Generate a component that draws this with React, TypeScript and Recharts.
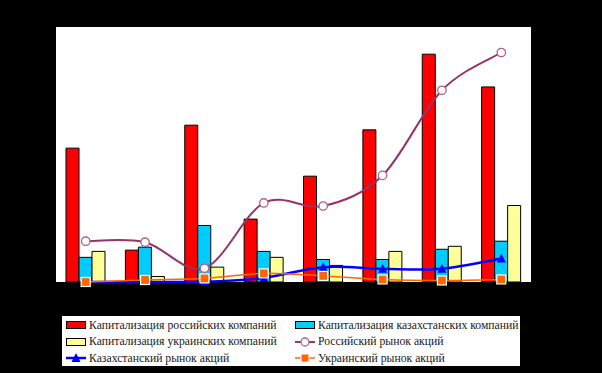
import React from "react";
import {
  ComposedChart,
  Bar,
  Line,
  XAxis,
  YAxis,
  CartesianGrid,
  Legend,
} from "recharts";

// categories (labels are black on black in the source, so not readable)
const years = ["2000", "2001", "2002", "2003", "2004", "2005", "2006", "2007"];

// bar series, left axis
const capRussia = [630, 150, 738, 296, 498, 716, 1072, 918];
const capKazakhstan = [116, 164, 266, 144, 106, 106, 154, 192];
const capUkraine = [144, 26, 70, 116, 78, 144, 168, 360];

// line series, right axis
const marketRussia = [320, 312, 108, 620, 596, 836, 1504, 1800];
const marketKazakhstan = [0, 0, 2, 32, 116, 104, 104, 184];
const marketUkraine = [0, 16, 28, 68, 48, 20, 12, 20];

const leftTicks = [0, 200, 400, 600, 800, 1000, 1200];
const rightTicks = [0, 400, 800, 1200, 1600, 2000];
const boundaryTicks = [1, 2, 3, 4, 5, 6, 7];

const data = years.map((year, i) => ({
  year,
  idx: i + 0.5,
  capRussia: capRussia[i],
  capKazakhstan: capKazakhstan[i],
  capUkraine: capUkraine[i],
  marketRussia: marketRussia[i],
  marketKazakhstan: marketKazakhstan[i],
  marketUkraine: marketUkraine[i],
}));

// Excel-like smoothed line (Catmull-Rom as bezier)
const smooth = (context: any) => {
  let pts: [number, number][] = [];
  return {
    areaStart() {},
    areaEnd() {},
    lineStart() {
      pts = [];
    },
    point(x: number, y: number) {
      pts.push([+x, +y]);
    },
    lineEnd() {
      const n = pts.length;
      if (!n) return;
      context.moveTo(pts[0][0], pts[0][1]);
      for (let i = 0; i < n - 1; i++) {
        const p0 = pts[Math.max(i - 1, 0)];
        const p1 = pts[i];
        const p2 = pts[i + 1];
        const p3 = pts[Math.min(i + 2, n - 1)];
        context.bezierCurveTo(
          p1[0] + (p2[0] - p0[0]) / 6,
          p1[1] + (p2[1] - p0[1]) / 6,
          p2[0] - (p3[0] - p1[0]) / 6,
          p2[1] - (p3[1] - p1[1]) / 6,
          p2[0],
          p2[1]
        );
      }
    },
  };
};

const RED = "#ff0000";
const CYAN = "#00ccff";
const YELLOW = "#ffff99";
const MAROON = "#993366";
const BLUE = "#0000ff";
const ORANGE = "#ff6600";

function CircleDot(props: any) {
  const { cx, cy, index } = props;
  return <circle key={`c-${index}`} cx={cx} cy={cy} r={4.2} fill="#fff" stroke="#b0608c" strokeWidth={1.3} />;
}

function TriangleDot(props: any) {
  const { cx, cy, index } = props;
  return (
    <path
      key={`t-${index}`}
      d={`M${cx},${cy - 5} L${cx + 4.5},${cy + 4} L${cx - 4.5},${cy + 4} Z`}
      fill={BLUE}
    />
  );
}

function SquareDot(props: any) {
  const { cx, cy, index } = props;
  return (
    <rect
      key={`s-${index}`}
      x={cx - 4.5}
      y={cy - 4.5}
      width={9}
      height={9}
      fill={ORANGE}
      stroke="#fff"
      strokeWidth={1.2}
    />
  );
}

const legendItems = [
  { label: "Капитализация российских компаний", kind: "bar", color: RED },
  { label: "Капитализация казахстанских компаний", kind: "bar", color: CYAN },
  { label: "Капитализация украинских компаний", kind: "bar", color: YELLOW },
  { label: "Российский рынок акций", kind: "circle", color: MAROON },
  { label: "Казахстанский рынок акций", kind: "triangle", color: BLUE },
  { label: "Украинский рынок акций", kind: "square", color: ORANGE },
];

function LegendIcon({ kind, color }: { kind: string; color: string }) {
  if (kind === "bar") {
    return (
      <svg width={20} height={10}>
        <rect x={0.5} y={1.5} width={19} height={7} fill={color} stroke="#000" strokeWidth={1} />
      </svg>
    );
  }
  return (
    <svg width={20} height={12}>
      <line x1={0} y1={6} x2={20} y2={6} stroke={color} strokeWidth={kind === "triangle" ? 2.5 : kind === "circle" ? 2 : 1.5} />
      {kind === "circle" && <circle cx={10} cy={6} r={4} fill="#fff" stroke="#b0608c" strokeWidth={1.3} />}
      {kind === "triangle" && <path d="M10,1 L14.5,10 L5.5,10 Z" fill={BLUE} />}
      {kind === "square" && <rect x={6} y={2} width={8} height={8} fill={ORANGE} stroke="#fff" strokeWidth={1} />}
    </svg>
  );
}

function ChartLegend() {
  return (
    <div
      style={{
        width: 458,
        height: 50,
        background: "#fff",
        boxSizing: "border-box",
        padding: "1px 0 0 4px",
        display: "grid",
        gridTemplateColumns: "229px 229px",
        gridAutoRows: "16.5px",
        fontFamily: "'Liberation Serif', 'Times New Roman', serif",
        fontSize: 11.7,
        color: "#1a1a1a",
      }}
    >
      {legendItems.map((item) => (
        <div key={item.label} style={{ display: "flex", alignItems: "center", whiteSpace: "nowrap" }}>
          <LegendIcon kind={item.kind} color={item.color} />
          <span style={{ marginLeft: 3 }}>{item.label}</span>
        </div>
      ))}
    </div>
  );
}

export default function App() {
  return (
    <div style={{ position: "absolute", left: 0, top: 0, width: 602, height: 373, background: "#000" }}>
      <ComposedChart
        width={602}
        height={373}
        data={data}
        margin={{ top: 27, right: 0, bottom: 91, left: 0 }}
        barGap={0}
      >
        <CartesianGrid horizontal={false} vertical={false} fill="#fff" stroke="none" />
        <XAxis dataKey="year" tick={false} tickLine={false} axisLine={false} height={0} />
        <XAxis
          xAxisId="bounds"
          type="number"
          dataKey="idx"
          domain={[0, 8]}
          ticks={boundaryTicks}
          tick={false}
          tickSize={-4}
          tickLine={{ stroke: "#000" }}
          axisLine={false}
          height={0}
        />
        <YAxis
          width={56}
          domain={[0, 1200]}
          ticks={leftTicks}
          tick={false}
          tickSize={-4}
          tickLine={{ stroke: "#000" }}
          axisLine={false}
        />
        <YAxis
          yAxisId="right"
          orientation="right"
          width={71}
          domain={[0, 2000]}
          ticks={rightTicks}
          tick={false}
          tickSize={-4}
          tickLine={{ stroke: "#000" }}
          axisLine={false}
        />
        <Bar dataKey="capRussia" name="Капитализация российских компаний" fill={RED} stroke="#000" strokeWidth={1} barSize={13} isAnimationActive={false} />
        <Bar dataKey="capKazakhstan" name="Капитализация казахстанских компаний" fill={CYAN} stroke="#000" strokeWidth={1} barSize={13} isAnimationActive={false} />
        <Bar dataKey="capUkraine" name="Капитализация украинских компаний" fill={YELLOW} stroke="#000" strokeWidth={1} barSize={13} isAnimationActive={false} />
        <Line yAxisId="right" dataKey="marketRussia" name="Российский рынок акций" type={smooth as any} stroke={MAROON} strokeWidth={2} dot={CircleDot} activeDot={false} isAnimationActive={false} />
        <Line yAxisId="right" dataKey="marketKazakhstan" name="Казахстанский рынок акций" type={smooth as any} stroke={BLUE} strokeWidth={2.5} dot={TriangleDot} activeDot={false} isAnimationActive={false} />
        <Line yAxisId="right" dataKey="marketUkraine" name="Украинский рынок акций" type={smooth as any} stroke={ORANGE} strokeWidth={1.5} dot={SquareDot} activeDot={false} isAnimationActive={false} />
        <Legend
          layout="horizontal"
          verticalAlign="middle"
          wrapperStyle={{ left: 62, top: 316, width: 458, height: 50 }}
          content={() => <ChartLegend />}
        />
      </ComposedChart>
    </div>
  );
}
